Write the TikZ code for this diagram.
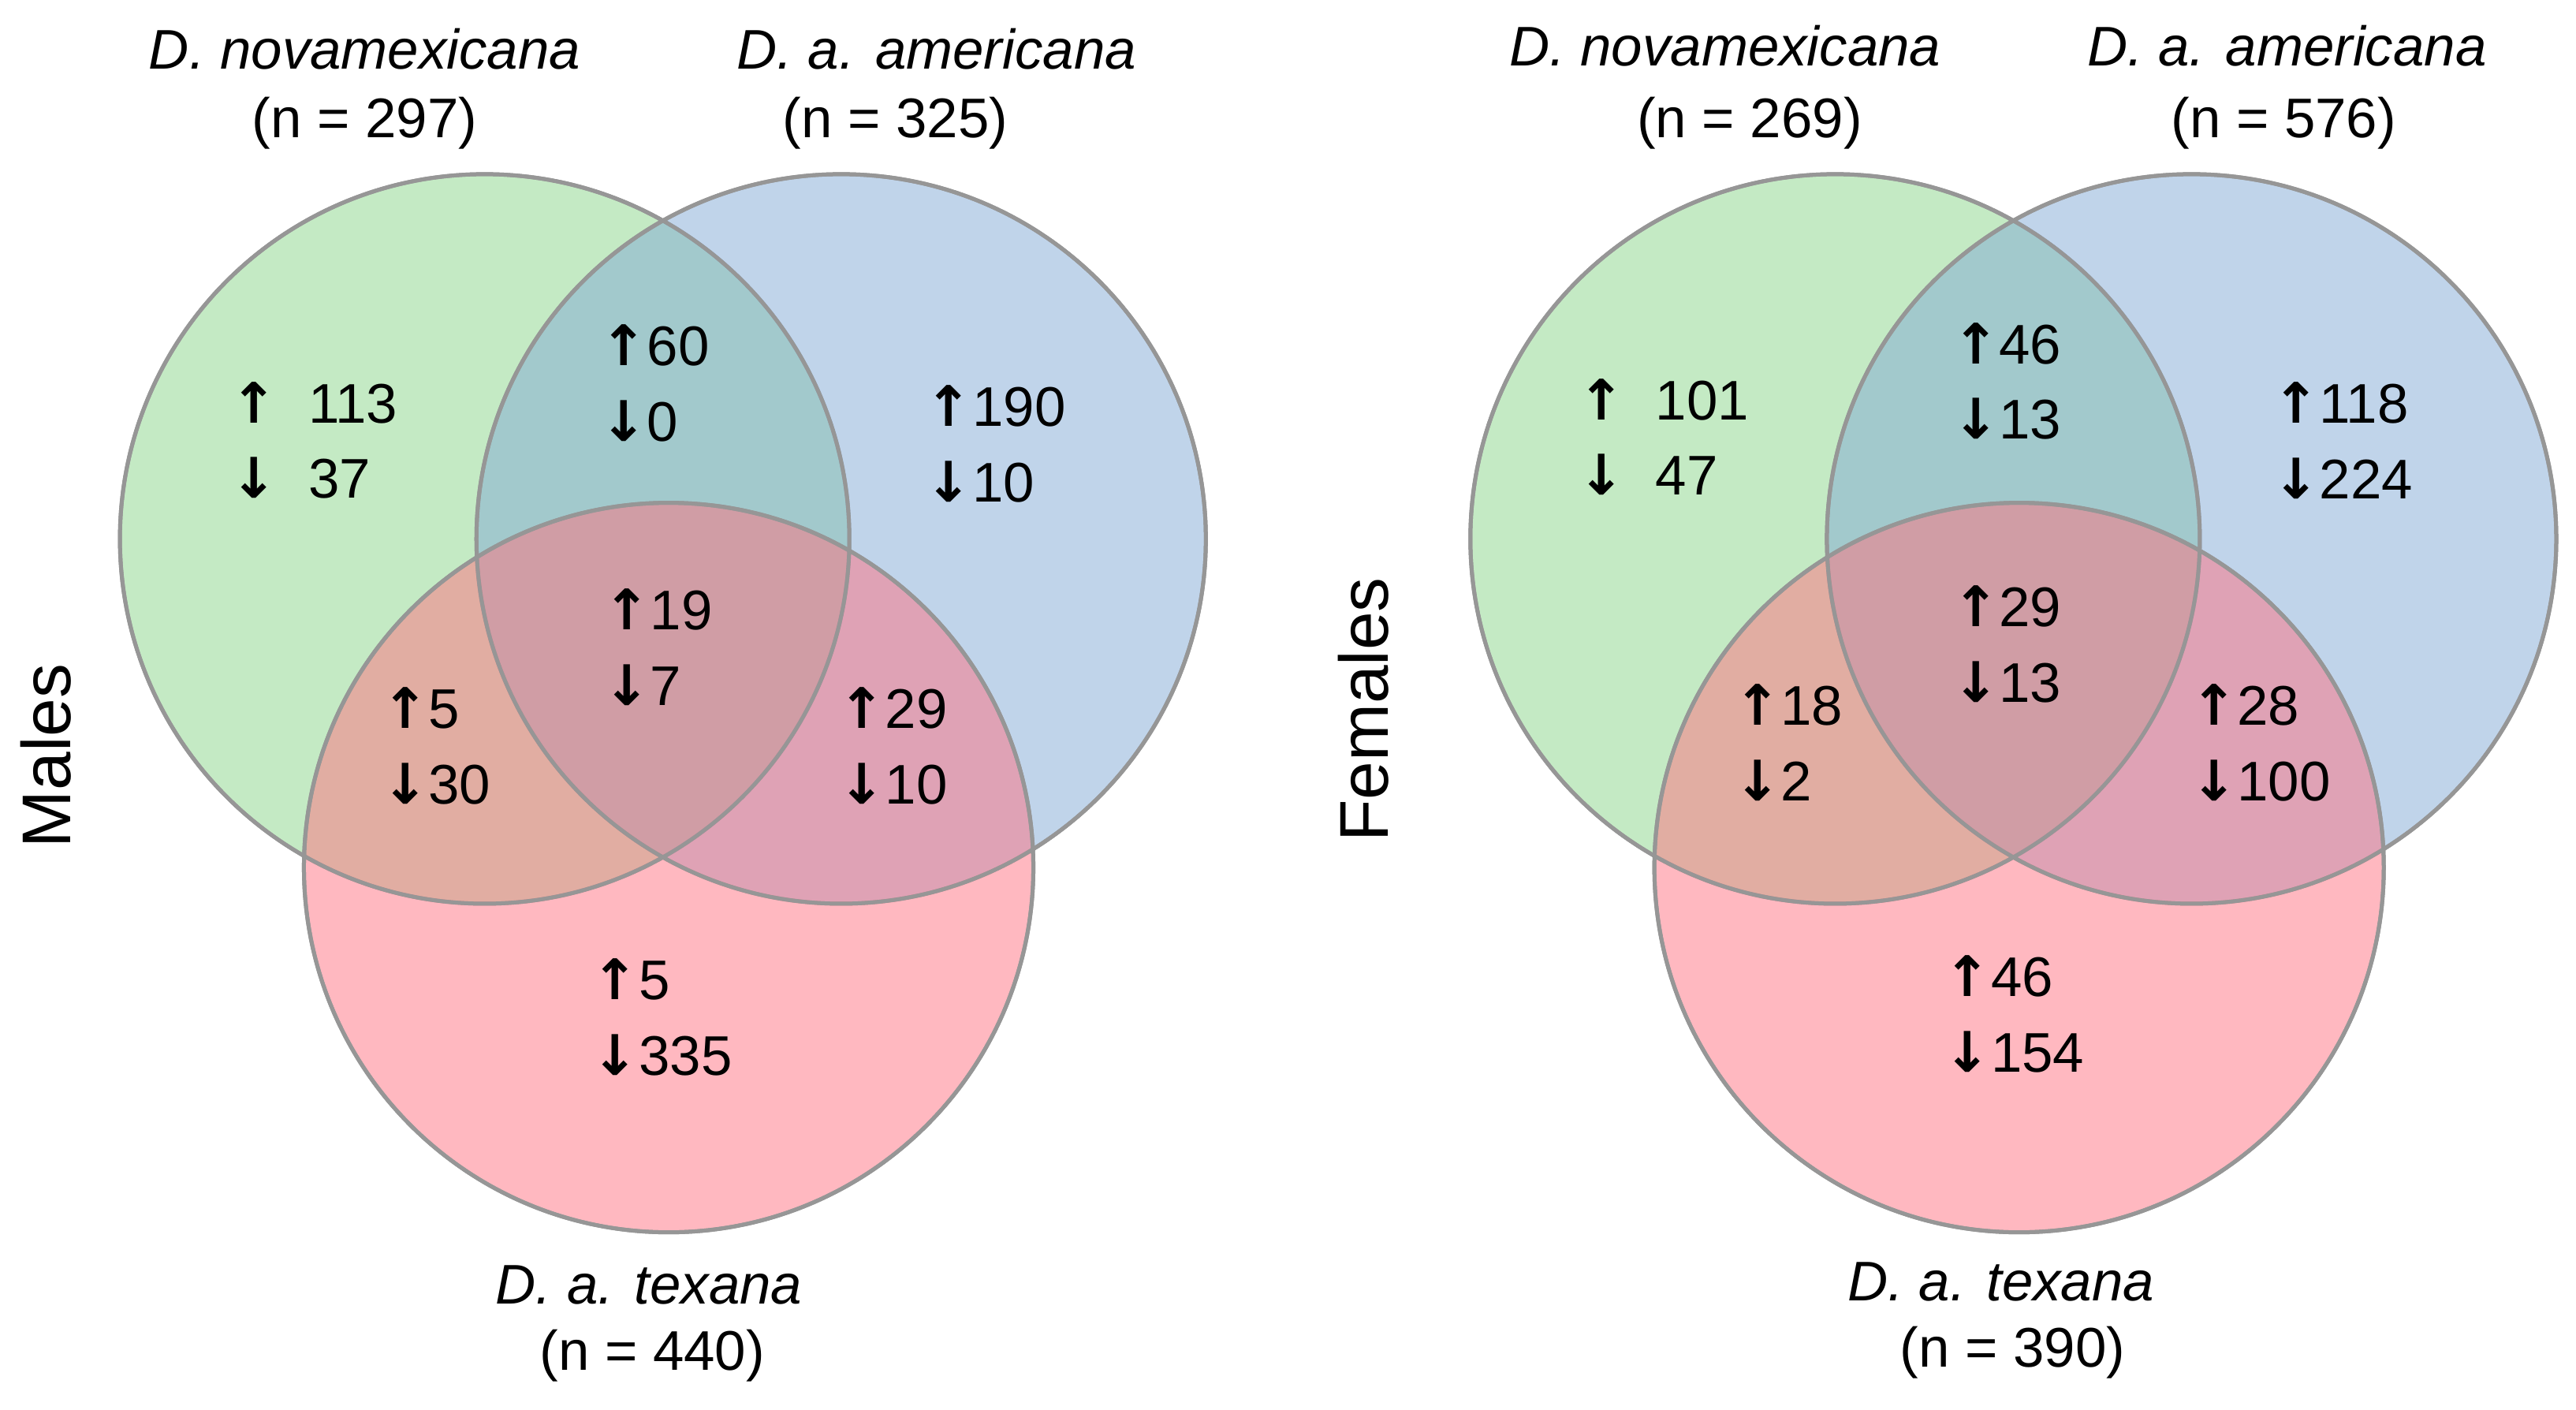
\documentclass[tikz,border=0pt]{standalone}
\usepackage{fontspec}
\setmainfont{Liberation Sans}
\newfontfamily\arr{DejaVu Sans}
\definecolor{cg}{RGB}{137,213,137}
\definecolor{cb}{RGB}{129,169,213}
\definecolor{cr}{RGB}{255,113,129}
\definecolor{edge}{RGB}{150,150,150}
\newcommand{\up}{{\arr\bfseries ↑}}
\newcommand{\dn}{{\arr\bfseries ↓}}
\tikzset{x=0.5pt,y=-0.5pt,
 venn/.style={draw=edge,line width=1.2pt,fill opacity=0.5},
 cnt/.style={anchor=west,align=left,font=\fontsize{17}{23}\selectfont,inner sep=0pt},
 lab/.style={font=\fontsize{17}{23}\selectfont,align=center,inner sep=0pt}}
\begin{document}
\begin{tikzpicture}
\useasboundingbox (0,0) rectangle (1568,858);
\foreach \ox in {0,822}{
 \fill[venn,fill=cg] (295+\ox,328) circle (222);
 \fill[venn,fill=cb] (512+\ox,328) circle (222);
 \fill[venn,fill=cr] (407+\ox,528) circle (222);
 \draw[draw=edge,line width=1.2pt] (295+\ox,328) circle (222) (512+\ox,328) circle (222) (407+\ox,528) circle (222);
}
% Males
\node[lab] (m1) at (222,30) {\textit{D. novamexicana}};
\node[lab] (m1n) at (222,75) {(n = 297)};
\node[lab] (m2) at (570,30) {\textit{D. a. americana}};
\node[lab] (m2n) at (545,75) {(n = 325)};
\node[lab] (m3) at (395,782) {\textit{D. a. texana}};
\node[lab] (m3n) at (397,825) {(n = 440)};
\node[lab,rotate=90,font=\fontsize{21}{25}\selectfont] (ml) at (28,460) {Males};
\node[cnt] (a1) at (140,268) {\up\ \ 113\\\dn\ \ 37};
\node[cnt] (a2) at (365,233) {\up60\\\dn0};
\node[cnt] (a3) at (563,270) {\up190\\\dn10};
\node[cnt] (a4) at (367,394) {\up19\\\dn7};
\node[cnt] (a5) at (232,454) {\up5\\\dn30};
\node[cnt] (a6) at (510,454) {\up29\\\dn10};
\node[cnt] (a7) at (360,619) {\up5\\\dn335};
% Females
\node[lab] (f1) at (1050,28) {\textit{D. novamexicana}};
\node[lab] (f1n) at (1065,75) {(n = 269)};
\node[lab] (f2) at (1392,28) {\textit{D. a. americana}};
\node[lab] (f2n) at (1390,75) {(n = 576)};
\node[lab] (f3) at (1218,780) {\textit{D. a. texana}};
\node[lab] (f3n) at (1225,823) {(n = 390)};
\node[lab,rotate=90,font=\fontsize{21}{25}\selectfont] (fl) at (830,432) {Females};
\node[cnt] (b1) at (960,266) {\up\ \ 101\\\dn\ \ 47};
\node[cnt] (b2) at (1188,232) {\up46\\\dn13};
\node[cnt] (b3) at (1383,268) {\up118\\\dn224};
\node[cnt] (b4) at (1188,392) {\up29\\\dn13};
\node[cnt] (b5) at (1055,452) {\up18\\\dn2};
\node[cnt] (b6) at (1333,452) {\up28\\\dn100};
\node[cnt] (b7) at (1183,617) {\up46\\\dn154};
\end{tikzpicture}
\end{document}
